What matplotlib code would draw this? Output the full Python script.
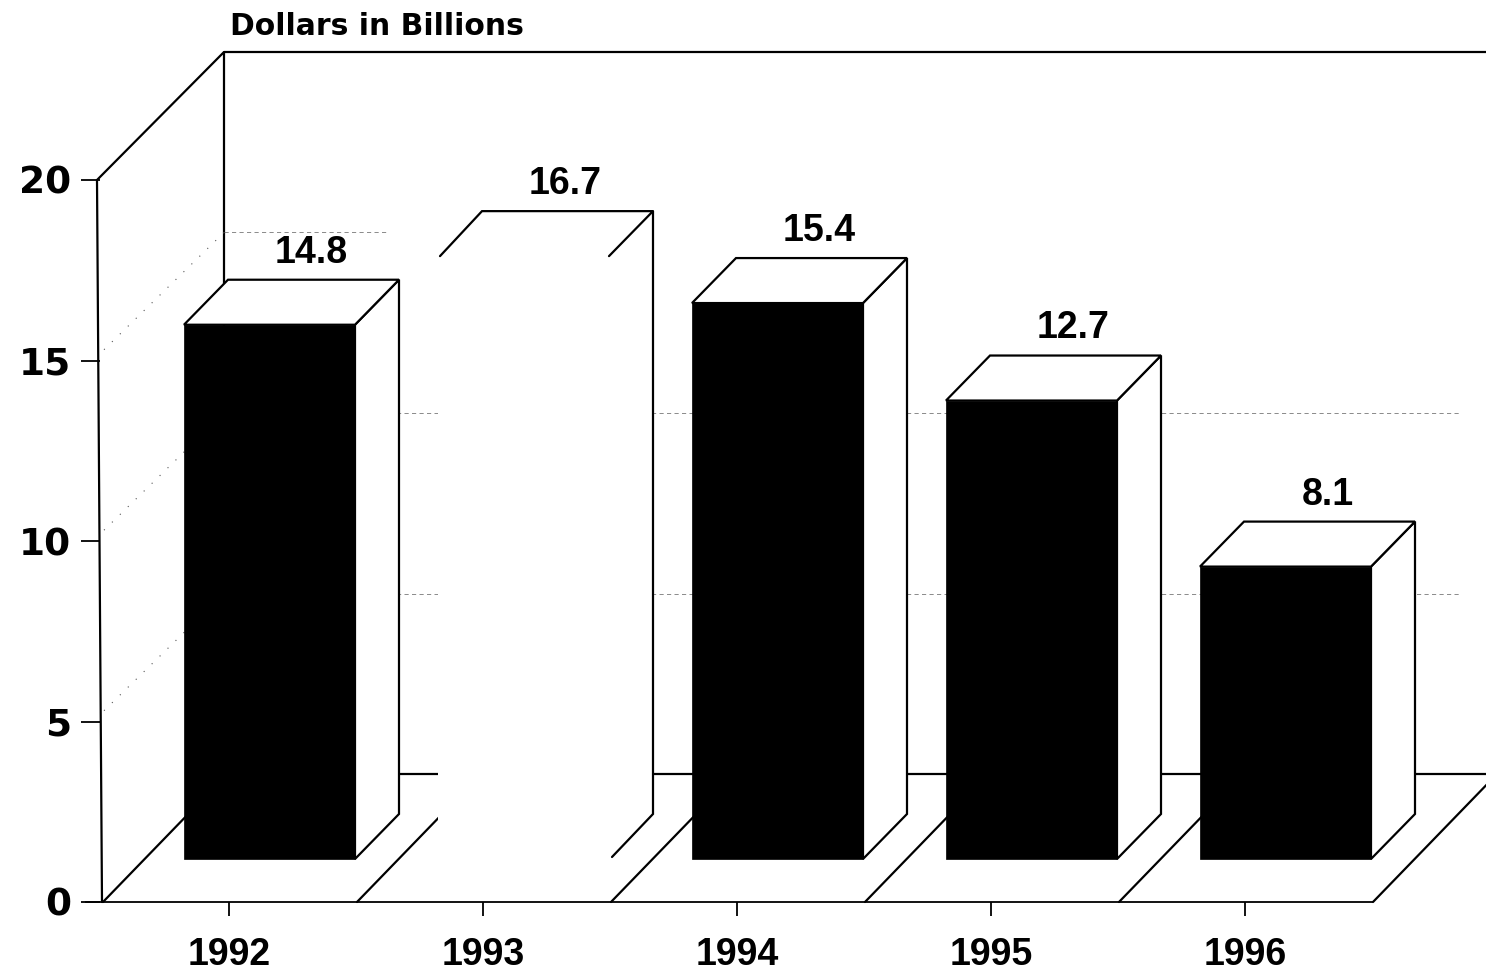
import matplotlib
matplotlib.use('Agg')
import matplotlib.pyplot as plt
from matplotlib.patches import Polygon

plt.rcParams['font.family'] = ['Liberation Sans', 'DejaVu Sans']

years = ['1992', '1993', '1994', '1995', '1996']
values = [14.8, 16.7, 15.4, 12.7, 8.1]
labels = ['14.8', '16.7', '15.4', '12.7', '8.1']
y_ticks = [0, 5, 10, 15, 20]
grid_levels = [5, 10, 15]

# scale of the page: one category = 254 px, one dollar unit = 36.1 px
UX = 254.0
UY = 36.1
W, H = 1486, 973
X0, Y0 = 229, 902  # pixel of 1992 tick / zero line

# depth of the floor and of the bars, in data units
DEPTH_X, DEPTH_Y = 124 / UX, 128 / UY
BAR_DX, BAR_DY = 44 / UX, 45 / UY
BAR_OFF, BAR_LIFT = -45 / UX, 43 / UY
BAR_W = 171 / UX
FLOOR_OFF = -126 / UX

fig = plt.figure(figsize=(W / 100, H / 100), dpi=100)
ax = fig.add_axes([0, 0, 1, 1])
ax.set_xlim(-X0 / UX, (W - X0) / UX)
ax.set_ylim((Y0 - H) / UY, Y0 / UY)

for s in ['top', 'right']:
    ax.spines[s].set_visible(False)

ax.spines['bottom'].set_position(('data', 0))
ax.spines['bottom'].set_bounds(-143 / UX, 1143 / UX)
ax.spines['bottom'].set_linewidth(1.3)
ax.spines['left'].set_position(('data', -129 / UX))
ax.spines['left'].set_visible(False)

ax.set_xticks(range(len(years)), years, fontsize=27, fontweight='bold')
ax.set_yticks(y_ticks, y_ticks, fontsize=27, fontweight='bold')
ax.tick_params(axis='x', length=10, width=1.3, pad=15)
ax.tick_params(axis='y', length=14, width=1.3, pad=7)
for t in ax.get_yticklabels():
    t.set_family('DejaVu Sans')

lk = dict(color='k', lw=1.6, solid_capstyle='round', solid_joinstyle='miter')
wall_x = FLOOR_OFF + DEPTH_X
x_end = (W - X0) / UX

# side wall and back wall
ax.plot([-127 / UX, -132 / UX, wall_x - 3 / UX, wall_x - 3 / UX], [0, 20, 20 + DEPTH_Y, DEPTH_Y], **lk)
ax.plot([wall_x - 3 / UX, x_end], [20 + DEPTH_Y, 20 + DEPTH_Y], **lk)
ax.plot([wall_x - 3 / UX, x_end], [DEPTH_Y, DEPTH_Y], **lk)

# faint scanned gridlines, the top one only survives behind the first bar
for lev in grid_levels:
    end = 159 / UX if lev == 15 else 1231 / UX
    ax.plot([wall_x - 3 / UX, end], [lev + DEPTH_Y] * 2, color='#777777', lw=0.6, ls=(0, (5, 4)))
    ax.plot([-125 / UX, wall_x - 3 / UX], [lev + 0.3, lev + DEPTH_Y], color='#555555', lw=0.8, ls=(0, (1, 9)))

# floor lines
for i in range(len(years) + 1):
    x = i + FLOOR_OFF
    ax.plot([x, x + DEPTH_X], [0, DEPTH_Y], clip_on=True, **lk)

# bars
for i, (year, val) in enumerate(zip(years, values)):
    x1 = i + BAR_OFF
    x2 = x1 + BAR_W
    b = BAR_LIFT
    t = b + val
    hollow = year == '1993'
    side = [(x2, b), (x2 + BAR_DX, b + BAR_DY), (x2 + BAR_DX, t + BAR_DY), (x2, t)]
    top = [(x1, t), (x1 + BAR_DX, t + BAR_DY), (x2 + BAR_DX, t + BAR_DY), (x2, t)]
    if hollow:
        # white bar, drawn without its front edges in the original
        ax.add_patch(Polygon([(x1, b), (x1, t), top[1], top[2], side[1], (x2, b)], fc='w', ec='none', zorder=3))
        ax.plot([x1 + 2 / UX, top[1][0], top[2][0], x2], [t, top[1][1], top[2][1], t], zorder=4, **lk)
        ax.plot([top[2][0], side[1][0], x2 + 3 / UX], [top[2][1], side[1][1], b + 2 / UY], zorder=4, **lk)
    else:
        ax.add_patch(Polygon(side, fc='w', ec='k', lw=1.6, zorder=3))
        ax.add_patch(Polygon(top, fc='w', ec='k', lw=1.6, zorder=3))
        ax.bar(x1, val, BAR_W, bottom=b, align='edge', color='k', edgecolor='k', lw=0.5, zorder=4)
    ax.text((x1 + x2) / 2 + BAR_DX - 2 / UX, t + BAR_DY + 0.75, labels[i], fontsize=27, fontweight='bold',
            ha='center', va='center', zorder=5)

ax.text(wall_x + 3 / UX, 24.25, 'Dollars in Billions', fontsize=21.5, fontweight='bold', ha='left', va='center',
        family='DejaVu Sans')

fig.savefig('out.png', dpi=100, facecolor='white')
